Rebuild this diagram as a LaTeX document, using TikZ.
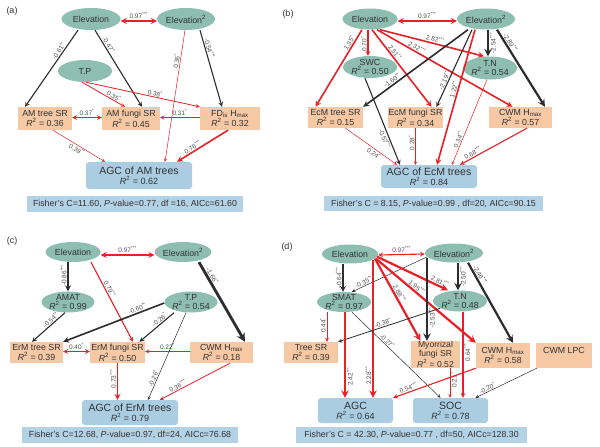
\documentclass[tikz,border=0pt]{standalone}
\usepackage{fontspec}
\setmainfont{Liberation Sans}
\usetikzlibrary{positioning,shapes.geometric}

\definecolor{ellfill}{RGB}{141,190,176}
\definecolor{varfill}{RGB}{246,200,164}
\definecolor{agcfill}{RGB}{170,205,226}
\definecolor{fishfill}{RGB}{180,210,230}
\definecolor{posred}{RGB}{234,32,38}
\definecolor{negdark}{RGB}{45,45,45}
\definecolor{txtgray}{RGB}{50,50,50}
\definecolor{lblgray}{RGB}{80,80,80}

\newcommand{\sigst}[1]{\textsuperscript{#1}}
\newcommand{\rsq}[1]{\textit{R}\textsuperscript{2} = #1}
\newcommand{\agctitle}[1]{{\fontsize{10.5}{12}\selectfont #1}}

\begin{document}
\begin{tikzpicture}[x=1pt, y=-1pt]
    \tikzset{
        sz/.style 2 args = {minimum width=#1pt, minimum height=#2pt},
        ell/.style = {ellipse, fill=ellfill, inner sep=0pt, text=txtgray, align=center, font=\fontsize{8.8}{9.4}\selectfont},
        ell2/.style = {ell, inner ysep=-2.5pt},
        var/.style = {rectangle, fill=varfill, inner sep=0pt, text=txtgray, align=center, font=\fontsize{8.8}{9.4}\selectfont},
        agc/.style = {rectangle, rounded corners=3pt, fill=agcfill, inner sep=0pt, text=txtgray, align=center, font=\fontsize{9}{10}\selectfont},
        fisher/.style = {rectangle, fill=fishfill, inner sep=0pt, text=txtgray, font=\fontsize{8.8}{10}\selectfont},
        plab/.style = {text=txtgray, font=\fontsize{9}{10}\selectfont},
        posarr/.style = {->, >=stealth, draw=posred},
        negarr/.style = {->, >=stealth, draw=negdark},
        dblarr/.style = {<->, >=stealth, draw=posred},
        l1/.style = {line width=0.5pt},
        l2/.style = {line width=0.8pt},
        l3/.style = {line width=1.1pt},
        l4/.style = {line width=1.6pt},
        l5/.style = {line width=2.2pt},
        l6/.style = {line width=2.8pt},
        lbl/.style = {text=lblgray, inner sep=0.8pt, font=\fontsize{6.5}{7}\selectfont},
        sl/.style = {lbl, sloped},
        vl/.style = {lbl, rotate=90, anchor=south},
        vr/.style = {lbl, rotate=90, anchor=north}
    }
    \fill[white] (0,0) rectangle (600,447);
    \useasboundingbox (0,0) rectangle (600,447);

    % (a) AM trees
    \node[plab] (a-tag) at (12,11) {(a)};
    \node[ell, sz={59}{22}] (a-elev) at (91,19) {Elevation};
    \node[ell, sz={58}{22}] (a-elev2) at (186,19) {Elevation\textsuperscript{2}};
    \node[ell, sz={54}{22}] (a-tp) at (85,71) {T.P};
    \node[var, sz={54}{23}] (a-tree) at (45,118.5) {AM tree SR\\\rsq{0.36}};
    \node[var, sz={58}{23}] (a-fungi) at (131,118.5) {AM fungi SR\\\rsq{0.45}};
    \node[var, sz={60}{23}] (a-fd) at (230,118.5) {FD\textsubscript{is} H\textsubscript{max}\\\rsq{0.32}};
    \node[agc, sz={106}{27}] (a-agc) at (139,175.5) {\agctitle{AGC of AM trees}\\\rsq{0.62}};
    \node[fisher, sz={216}{16}] (a-fish) at (135,204) {Fisher's C=11.60, \textit{P}-value=0.77, df =16, AICc=61.60};

    \draw[dblarr, l4] ([yshift=-2pt]a-elev.east) -- node[lbl, above=1pt] {0.97\sigst{***}} ([yshift=-2pt]a-elev2.west);
    \draw[negarr, l3] ([xshift=-13pt]a-elev.south) -- node[sl, above, pos=0.3] {-0.61\sigst{**}} ([xshift=-20pt]a-tree.north);
    \draw[negarr, l3] ([xshift=4pt]a-elev.south) -- node[sl, above, pos=0.22] {-0.47\sigst{*}} ([xshift=11pt]a-fungi.north);
    \draw[negarr, l3] ([xshift=14pt]a-elev2.south) -- node[sl, above, pos=0.25] {-0.54\sigst{***}} ([xshift=-8pt]a-fd.north);
    \draw[posarr, l1] ([xshift=-1pt]a-elev2.south) -- node[sl, above, pos=0.24] {0.36\sigst{*}} ([xshift=26pt]a-agc.north);
    \draw[posarr, l2] ([xshift=-3pt]a-tp.south) -- node[sl, above, pos=0.7] {0.35\sigst{*}} ([xshift=-6pt]a-fungi.north);
    \draw[posarr, l2] ([xshift=1pt]a-tp.south) -- node[sl, above, pos=0.6] {0.38\sigst{*}} (a-fd.north west);
    \draw[dblarr, l3] ([yshift=1pt]a-tree.east) -- node[lbl, above=1pt] {0.37\sigst{*}} ([yshift=1pt]a-fungi.west);
    \draw[posarr, l2] ([yshift=1pt]a-fd.west) -- node[lbl, above=1pt] {0.31\sigst{*}} ([yshift=1pt]a-fungi.east);
    \draw[posarr, l1] ([xshift=8pt]a-tree.south) -- node[sl, below, pos=0.5] {0.39\sigst{**}} ([xshift=-34pt]a-agc.north);
    \draw[posarr, l4] ([xshift=-2pt]a-fd.south) -- node[sl, above, pos=0.65] {0.76\sigst{***}} ([xshift=38pt]a-agc.north);

    % (b) EcM trees
    \node[plab] (b-tag) at (288,14) {(b)};
    \node[ell, sz={55}{21}] (b-elev) at (370,19) {Elevation};
    \node[ell, sz={58}{21}] (b-elev2) at (486,19) {Elevation\textsuperscript{2}};
    \node[ell2, sz={54}{22}] (b-swc) at (370,67) {SWC\\\rsq{0.50}};
    \node[ell2, sz={54}{23}] (b-tn) at (490,68) {T.N\\\rsq{0.54}};
    \node[var, sz={55}{21}] (b-tree) at (335.5,117.5) {EcM tree SR\\\rsq{0.15}};
    \node[var, sz={55}{21}] (b-fungi) at (415.5,117.5) {EcM fungi SR\\\rsq{0.34}};
    \node[var, sz={63}{21}] (b-cwm) at (520.5,117.5) {CWM H\textsubscript{max}\\\rsq{0.57}};
    \node[agc, sz={96}{23}] (b-agc) at (429,176.5) {\agctitle{AGC of EcM trees}\\\rsq{0.84}};
    \node[fisher, sz={219}{15}] (b-fish) at (433.5,203.5) {Fisher's C = 8.15, \textit{P}-value=0.99 , df=20, AICc=90.15};

    \draw[dblarr, l4] ([yshift=-2pt]b-elev.east) -- node[lbl, above=1pt] {0.97\sigst{***}} ([yshift=-2pt]b-elev2.west);
    \draw[posarr, l4] ([xshift=-8pt]b-elev.south) -- node[sl, above, pos=0.2] {1.35\sigst{*}} ([xshift=-20pt]b-tree.north);
    \draw[posarr, l3] ([xshift=-2pt]b-elev.south) -- node[vl, pos=0.55] {0.70\sigst{*}} ([xshift=-2pt]b-swc.north);
    \draw[posarr, l4] ([xshift=2pt]b-elev.south) -- node[sl, above, pos=0.33] {2.51\sigst{**}} ([xshift=16pt]b-fungi.north);
    \draw[posarr, l4] ([xshift=10pt]b-elev.south) -- node[sl, above, pos=0.52] {2.82\sigst{***}} ([xshift=-6pt]b-tn.north);
    \draw[posarr, l4] ([xshift=7pt]b-elev.south) -- node[sl, above, pos=0.28] {2.32\sigst{***}} ([xshift=-8pt]b-cwm.north);
    \draw[negarr, l4] ([xshift=-18pt]b-elev2.south) -- node[sl, above, pos=0.7] {-1.60\sigst{**}} (b-tree.north east);
    \draw[negarr, l3] ([xshift=-14pt]b-elev2.south) -- node[sl, above, pos=0.68] {-2.19\sigst{**}} ([xshift=21pt]b-fungi.north);
    \draw[posarr, l4] ([xshift=-11pt]b-elev2.south) -- node[sl, above, pos=0.45] {1.22\sigst{**}} ([xshift=8pt]b-agc.north);
    \draw[negarr, l5] ([xshift=2pt]b-elev2.south) -- node[vr, pos=0.5] {-2.54\sigst{***}} ([xshift=-2pt]b-tn.north);
    \draw[negarr, l5] ([xshift=11pt]b-elev2.south) -- node[sl, above, pos=0.2] {-2.89\sigst{***}} ([xshift=24.5pt]b-cwm.north);
    \draw[posarr, l1] ([xshift=-3pt]b-tn.south) -- node[sl, above, pos=0.72] {0.34\sigst{**}} ([xshift=23pt]b-agc.north);
    \draw[negarr, l3] ([xshift=-5pt]b-swc.south) -- node[sl, below, pos=0.68] {-0.57\sigst{***}} ([xshift=-29pt]b-agc.north);
    \draw[posarr, l1] ([xshift=10pt]b-tree.south) -- node[sl, below, pos=0.6] {0.24\sigst{*}} ([xshift=-32pt]b-agc.north);
    \draw[posarr, l1] (b-fungi.south) -- node[vl, pos=0.4] {0.28\sigst{*}} ([xshift=-13.5pt]b-agc.north);
    \draw[posarr, l3] ([xshift=6.5pt]b-cwm.south) -- node[sl, above, pos=0.78] {0.68\sigst{***}} ([xshift=31pt]b-agc.north);

    % (c) ErM trees
    \node[plab] (c-tag) at (12,241) {(c)};
    \node[ell, sz={55}{20}] (c-elev) at (73,252) {Elevation};
    \node[ell, sz={54}{20}] (c-elev2) at (183,252) {Elevation\textsuperscript{2}};
    \node[ell2, sz={50}{21}] (c-amat) at (68,302) {AMAT\\\rsq{0.99}};
    \node[ell2, sz={53}{21}] (c-tp) at (191,302) {T.P\\\rsq{0.54}};
    \node[var, sz={53}{21}] (c-tree) at (36.5,352.5) {ErM tree SR\\\rsq{0.39}};
    \node[var, sz={55}{21}] (c-fungi) at (117.5,352.5) {ErM fungi SR\\\rsq{0.50}};
    \node[var, sz={63}{21}] (c-cwm) at (221.5,352.5) {CWM H\textsubscript{max}\\\rsq{0.18}};
    \node[agc, sz={96}{25}] (c-agc) at (130,412.5) {\agctitle{AGC of ErM trees}\\\rsq{0.79}};
    \node[fisher, sz={216}{16}] (c-fish) at (130,435) {Fisher's C=12.68, \textit{P}-value=0.97, df=24, AICc=76.68};

    \draw[dblarr, l4] ([yshift=-3pt]c-elev.east) -- node[lbl, above=1pt] {0.97\sigst{***}} ([yshift=-3pt]c-elev2.west);
    \draw[negarr, l4] ([xshift=-5pt]c-elev.south) -- node[vl, pos=0.45] {-0.86\sigst{***}} (c-amat.north);
    \draw[posarr, l3] ([xshift=18pt]c-elev.south) -- node[sl, above, pos=0.36] {0.79\sigst{**}} ([xshift=15.5pt]c-fungi.north);
    \draw[negarr, l6] ([xshift=16pt]c-elev2.south) -- node[sl, above, pos=0.2] {-1.66\sigst{*}} ([xshift=23.5pt]c-cwm.north);
    \draw[negarr, l3] ([xshift=-3pt]c-amat.south) -- node[sl, above, pos=0.35] {-0.54\sigst{**}} ([xshift=-4.5pt]c-tree.north);
    \draw[negarr, l4] ([yshift=-1pt]c-tp.west) -- node[sl, above, pos=0.25] {-0.60\sigst{**}} (c-tree.north east);
    \draw[negarr, l3] ([xshift=-17pt]c-tp.south) -- node[sl, above, pos=0.35] {-0.26\sigst{*}} ([xshift=22pt]c-fungi.north);
    \draw[negarr, l1] ([xshift=-5pt]c-tp.south) -- node[sl, above, pos=0.77] {-0.26\sigst{*}} ([xshift=18pt]c-agc.north);
    \draw[dblarr, l3] ([yshift=1pt]c-tree.east) -- node[lbl, above=1pt] {0.40\sigst{*}} ([yshift=1pt]c-fungi.west);
    \draw[posarr, l2] ([yshift=1pt]c-cwm.west) -- node[lbl, above=1pt] {0.22\sigst{*}} ([yshift=1pt]c-fungi.east);
    \draw[posarr, l4] (c-fungi.south) -- node[vl, pos=0.43] {0.73\sigst{***}} ([xshift=-12.5pt]c-agc.north);
    \draw[posarr, l2] ([xshift=8.5pt]c-cwm.south) -- node[sl, above, pos=0.72] {0.36\sigst{***}} ([xshift=30pt]c-agc.north);

    % (d) AGC and SOC
    \node[plab] (d-tag) at (287,247) {(d)};
    \node[ell, sz={56}{19}] (d-elev) at (350,254) {Elevation};
    \node[ell, sz={58}{19}] (d-elev2) at (454,253) {Elevation\textsuperscript{2}};
    \node[ell2, sz={54}{20}] (d-smat) at (344,302) {SMAT\\\rsq{0.97}};
    \node[ell2, sz={54}{21}] (d-tn) at (460,301) {T.N\\\rsq{0.48}};
    \node[var, sz={54}{21}] (d-tree) at (311,352.5) {Tree SR\\\rsq{0.39}};
    \node[var, sz={49}{27}, font=\fontsize{8.6}{8.8}\selectfont] (d-myc) at (435.5,354.5) {Myorrizal\\fungi SR\\\rsq{0.52}};
    \node[var, sz={54}{25}] (d-cwm) at (503,355.5) {CWM H\textsubscript{max}\\\rsq{0.58}};
    \node[var, sz={56}{25}] (d-lpc) at (564,355.5) {CWM LPC\\~};
    \node[agc, sz={75}{25}] (d-agc) at (355.5,410.5) {\agctitle{AGC}\\\rsq{0.64}};
    \node[agc, sz={75}{25}] (d-soc) at (450.5,410.5) {\agctitle{SOC}\\\rsq{0.78}};
    \node[fisher, sz={231}{16}] (d-fish) at (411.5,435) {Fisher's C = 42.30, \textit{P}-value=0.77 , df=50, AICc=128.30};

    \draw[dblarr, l3] ([yshift=-1pt]d-elev.east) -- node[lbl, above=1pt] {0.97\sigst{***}} ([yshift=-1pt]d-elev2.west);
    \draw[negarr, l4] ([xshift=-7pt]d-elev.south) -- node[vl, pos=0.5] {-0.64\sigst{***}} ([xshift=-1pt]d-smat.north);
    \draw[negarr, l1] ([xshift=2pt, yshift=-4pt]d-elev2.west) -- node[sl, above, pos=0.82] {-0.35\sigst{**}} ([xshift=8pt]d-smat.north);
    \draw[posarr, l5] ([xshift=23pt, yshift=4pt]d-elev.south) -- node[vl, pos=0.84] {2.28\sigst{***}} ([xshift=17.5pt]d-agc.north);
    \draw[posarr, l5] ([xshift=25pt, yshift=5pt]d-elev.south) -- node[sl, above, pos=0.45] {2.88\sigst{***}} ([xshift=-15pt]d-myc.north);
    \draw[posarr, l5] ([xshift=27pt, yshift=7pt]d-elev.south) -- node[sl, above, pos=0.86] {2.81\sigst{***}} ([xshift=-12pt]d-tn.north);
    \draw[posarr, l5] ([xshift=26pt, yshift=5pt]d-elev.south) -- node[sl, above, pos=0.38] {1.95\sigst{***}} (d-cwm.north west);
    \draw[negarr, l5] ([xshift=-27pt, yshift=5pt]d-elev2.south) -- node[vr, pos=0.72] {-2.53\sigst{***}} ([xshift=-8.5pt]d-myc.north);
    \draw[negarr, l5] ([xshift=4pt]d-elev2.south) -- node[vr, pos=0.5] {-2.50\sigst{***}} ([xshift=-2pt]d-tn.north);
    \draw[negarr, l5] ([xshift=14pt]d-elev2.south) -- node[sl, above, pos=0.18] {-2.46\sigst{***}} ([xshift=10pt]d-cwm.north);
    \draw[negarr, l2] (d-tn.200) -- node[sl, above, pos=0.55] {-0.38\sigst{*}} (d-tree.north east);
    \draw[posarr, l2] ([xshift=-17pt]d-smat.south) -- node[vl, pos=0.45] {0.44\sigst{*}} ([xshift=16pt]d-tree.north);
    \draw[posarr, l5] ([xshift=1pt]d-smat.south) -- node[vr, pos=0.75] {2.42\sigst{***}} ([xshift=-10.5pt]d-agc.north);
    \draw[negarr, l1] ([xshift=8pt]d-smat.south) -- node[sl, above, pos=0.37] {-0.27\sigst{*}} ([xshift=-10pt]d-soc.north);
    \draw[posarr, l3] ([xshift=3pt]d-tn.south) -- node[vr, pos=0.47] {0.64\sigst{***}} ([xshift=12.5pt]d-soc.north);
    \draw[posarr, l1] ([xshift=14.5pt]d-myc.south) -- node[vr, pos=0.4] {0.21\sigst{*}} ([xshift=-0.5pt]d-soc.north);
    \draw[posarr, l3] (d-cwm.south west) -- node[sl, above, pos=0.8] {0.54\sigst{***}} (d-agc.north east);
    \draw[negarr, l1] ([xshift=1pt]d-lpc.south west) -- node[sl, above, pos=0.78] {-0.20\sigst{*}} ([xshift=25pt]d-soc.north);
\end{tikzpicture}
\end{document}
